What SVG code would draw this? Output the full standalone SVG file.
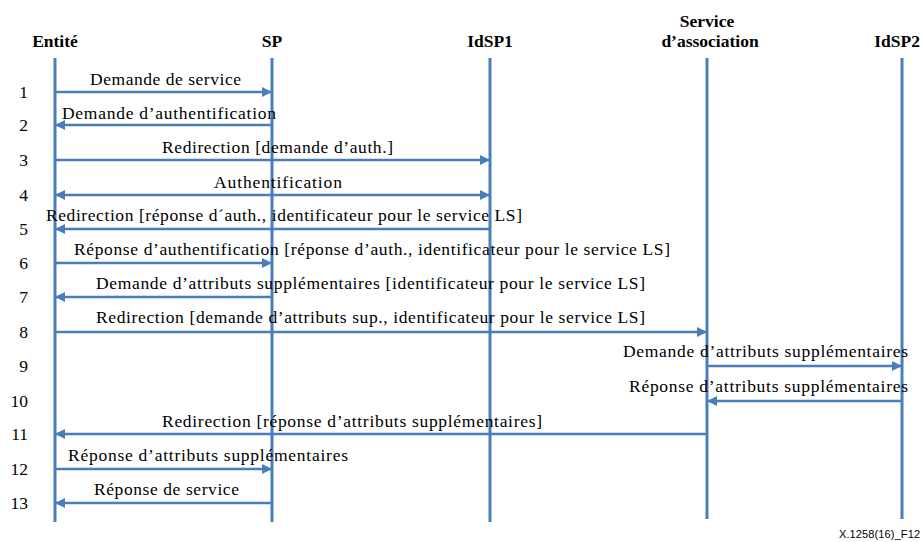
<svg xmlns="http://www.w3.org/2000/svg" width="921" height="542" viewBox="0 0 921 542">
  <style>
    .life { stroke: #4a7ebb; stroke-width: 3; fill: none; }
    .msg { stroke: #4a7ebb; stroke-width: 2.5; fill: none; }
    text { font-family: "Times New Roman", "Liberation Serif", Tinos, "DejaVu Serif", serif; fill: #000; }
    .head { font-size: 17.5px; font-weight: bold; }
    .lbl { font-size: 17.5px; }
    .num { font-size: 17.5px; text-anchor: end; }
    text.ref { font-family: "Liberation Sans", Arial, sans-serif; font-size: 11px; }
  </style>
  <defs>
    <marker id="arrow" viewBox="0 0 10 10" refX="10" refY="5" markerWidth="10" markerHeight="10" markerUnits="userSpaceOnUse" orient="auto-start-reverse">
      <path d="M0,0 L10,5 L0,10 Z" fill="#4a7ebb"/>
    </marker>
  </defs>
  <rect width="921" height="542" fill="#fff"/>

  <!-- participants with lifelines -->
  <g id="entite">
    <text class="head" x="55" y="47" text-anchor="middle">Entité</text>
    <line class="life" x1="55" y1="58" x2="55" y2="522"/>
  </g>
  <g id="sp">
    <text class="head" x="272" y="47" text-anchor="middle">SP</text>
    <line class="life" x1="272" y1="58" x2="272" y2="522"/>
  </g>
  <g id="idsp1">
    <text class="head" x="490" y="47" text-anchor="middle">IdSP1</text>
    <line class="life" x1="490" y1="58" x2="490" y2="522"/>
  </g>
  <g id="service-association">
    <text class="head" x="707" y="27" text-anchor="middle">Service</text>
    <text class="head" x="710" y="47" text-anchor="middle">d’association</text>
    <line class="life" x1="707" y1="58" x2="707" y2="519"/>
  </g>
  <g id="idsp2">
    <text class="head" x="920" y="47" text-anchor="end">IdSP2</text>
    <line class="life" x1="902" y1="58" x2="902" y2="519"/>
  </g>

  <!-- step numbers -->
  <g id="steps">
    <text class="num" x="28" y="98">1</text>
    <text class="num" x="28" y="131">2</text>
    <text class="num" x="28" y="166">3</text>
    <text class="num" x="28" y="201">4</text>
    <text class="num" x="28" y="235">5</text>
    <text class="num" x="28" y="269">6</text>
    <text class="num" x="28" y="303">7</text>
    <text class="num" x="28" y="338">8</text>
    <text class="num" x="28" y="372">9</text>
    <text class="num" x="28" y="407">10</text>
    <text class="num" x="28" y="440">11</text>
    <text class="num" x="28" y="475">12</text>
    <text class="num" x="28" y="509">13</text>
  </g>

  <!-- messages -->
  <g id="connectors">
    <line class="msg" x1="55" y1="92" x2="272" y2="92" marker-end="url(#arrow)"/>
    <line class="msg" x1="272" y1="125" x2="55" y2="125" marker-end="url(#arrow)"/>
    <line class="msg" x1="55" y1="160" x2="490" y2="160" marker-end="url(#arrow)"/>
    <line class="msg" x1="55" y1="195" x2="490" y2="195" marker-start="url(#arrow)" marker-end="url(#arrow)"/>
    <line class="msg" x1="490" y1="229" x2="55" y2="229" marker-end="url(#arrow)"/>
    <line class="msg" x1="55" y1="263" x2="272" y2="263" marker-end="url(#arrow)"/>
    <line class="msg" x1="272" y1="297" x2="55" y2="297" marker-end="url(#arrow)"/>
    <line class="msg" x1="55" y1="332" x2="707" y2="332" marker-end="url(#arrow)"/>
    <line class="msg" x1="707" y1="366" x2="902" y2="366" marker-end="url(#arrow)"/>
    <line class="msg" x1="902" y1="401" x2="707" y2="401" marker-end="url(#arrow)"/>
    <line class="msg" x1="707" y1="434" x2="55" y2="434" marker-end="url(#arrow)"/>
    <line class="msg" x1="55" y1="469" x2="272" y2="469" marker-end="url(#arrow)"/>
    <line class="msg" x1="272" y1="503" x2="55" y2="503" marker-end="url(#arrow)"/>
  </g>

  <!-- message labels -->
  <g id="labels">
    <text class="lbl" x="90" y="85" textLength="151">Demande de service</text>
    <text class="lbl" x="62" y="119" textLength="214">Demande d’authentification</text>
    <text class="lbl" x="162" y="153" textLength="231">Redirection [demande d’auth.]</text>
    <text class="lbl" x="214" y="188" textLength="128">Authentification</text>
    <text class="lbl" x="46" y="221" textLength="476">Redirection [réponse d´auth., identificateur pour le service LS]</text>
    <text class="lbl" x="74" y="255" textLength="596">Réponse d’authentification [réponse d’auth., identificateur pour le service LS]</text>
    <text class="lbl" x="96" y="289" textLength="549">Demande d’attributs supplémentaires [identificateur pour le service LS]</text>
    <text class="lbl" x="96" y="323" textLength="549">Redirection [demande d’attributs sup., identificateur pour le service LS]</text>
    <text class="lbl" x="623" y="357" textLength="285">Demande d’attributs supplémentaires</text>
    <text class="lbl" x="629" y="392" textLength="279">Réponse d’attributs supplémentaires</text>
    <text class="lbl" x="162" y="427" textLength="380">Redirection [réponse d’attributs supplémentaires]</text>
    <text class="lbl" x="68" y="461" textLength="280">Réponse d’attributs supplémentaires</text>
    <text class="lbl" x="94" y="495" textLength="145">Réponse de service</text>
  </g>

  <text class="ref" x="839" y="538" textLength="81">X.1258(16)_F12</text>
</svg>
